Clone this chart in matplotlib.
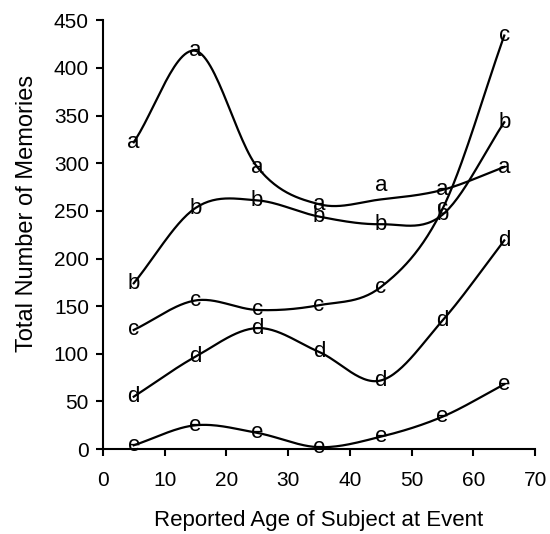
import numpy as np
import matplotlib.pyplot as plt

plt.rcParams['font.family'] = ['Liberation Sans', 'DejaVu Sans']

ages = [5, 15, 25, 35, 45, 55, 65]
series_names = ['a', 'b', 'c', 'd', 'e']
a_vals = [322, 418, 296, 257, 262, 272, 296]
b_vals = [174, 253, 261, 244, 236, 246, 343]
c_vals = [125, 156, 146, 151, 170, 252, 434]
d_vals = [55, 97, 127, 102, 72, 135, 219]
e_vals = [4, 25, 17, 2, 13, 34, 68]

# the "a" label at age 45 sits a little above its line in the original
label_shift = {('a', 45): 10}


def smooth(x, y, n=30):
    # catmull-rom style smoothing, like the spreadsheet "smoothed line"
    x = np.asarray(x, float)
    y = np.asarray(y, float)
    px = np.concatenate([[2 * x[0] - x[1]], x, [2 * x[-1] - x[-2]]])
    py = np.concatenate([[2 * y[0] - y[1]], y, [2 * y[-1] - y[-2]]])
    xs, ys = [], []
    t = np.linspace(0, 1, n)
    for i in range(1, len(px) - 2):
        for arr, out in ((px, xs), (py, ys)):
            p0, p1, p2, p3 = arr[i - 1], arr[i], arr[i + 1], arr[i + 2]
            out.append(0.5 * ((2 * p1) + (-p0 + p2) * t
                              + (2 * p0 - 5 * p1 + 4 * p2 - p3) * t ** 2
                              + (-p0 + 3 * p1 - 3 * p2 + p3) * t ** 3))
    return np.concatenate(xs), np.concatenate(ys)


fig = plt.figure(figsize=(5.5, 5.34), dpi=100)
ax = fig.add_axes([0.187, 0.159, 0.786, 0.803])

for name, vals in zip(series_names, [a_vals, b_vals, c_vals, d_vals, e_vals]):
    sx, sy = smooth(ages, vals)
    ax.plot(sx, sy, color='black', lw=1.6)
    for x, y in zip(ages, vals):
        ax.annotate(name, (x, y), xytext=(0, label_shift.get((name, x), 0)),
                    textcoords='offset points', ha='center', va='center',
                    fontsize=16)

ax.set_xlim(0, 70)
ax.set_ylim(0, 450)
ax.set_xticks(range(0, 71, 10))
ax.set_yticks(range(0, 451, 50))
ax.spines['top'].set_visible(False)
ax.spines['right'].set_visible(False)
ax.spines['left'].set_linewidth(1.5)
ax.spines['bottom'].set_linewidth(1.5)
ax.tick_params(direction='out', length=5, width=1.5, labelsize=15)
ax.tick_params(axis='y', pad=5)
ax.tick_params(axis='x', pad=11)
ax.set_xlabel('Reported Age of Subject at Event', fontsize=16, labelpad=14)
ax.set_ylabel('Total Number of Memories', fontsize=17)
ax.yaxis.set_label_coords(-0.15, 0.55)

plt.savefig('out.png')
